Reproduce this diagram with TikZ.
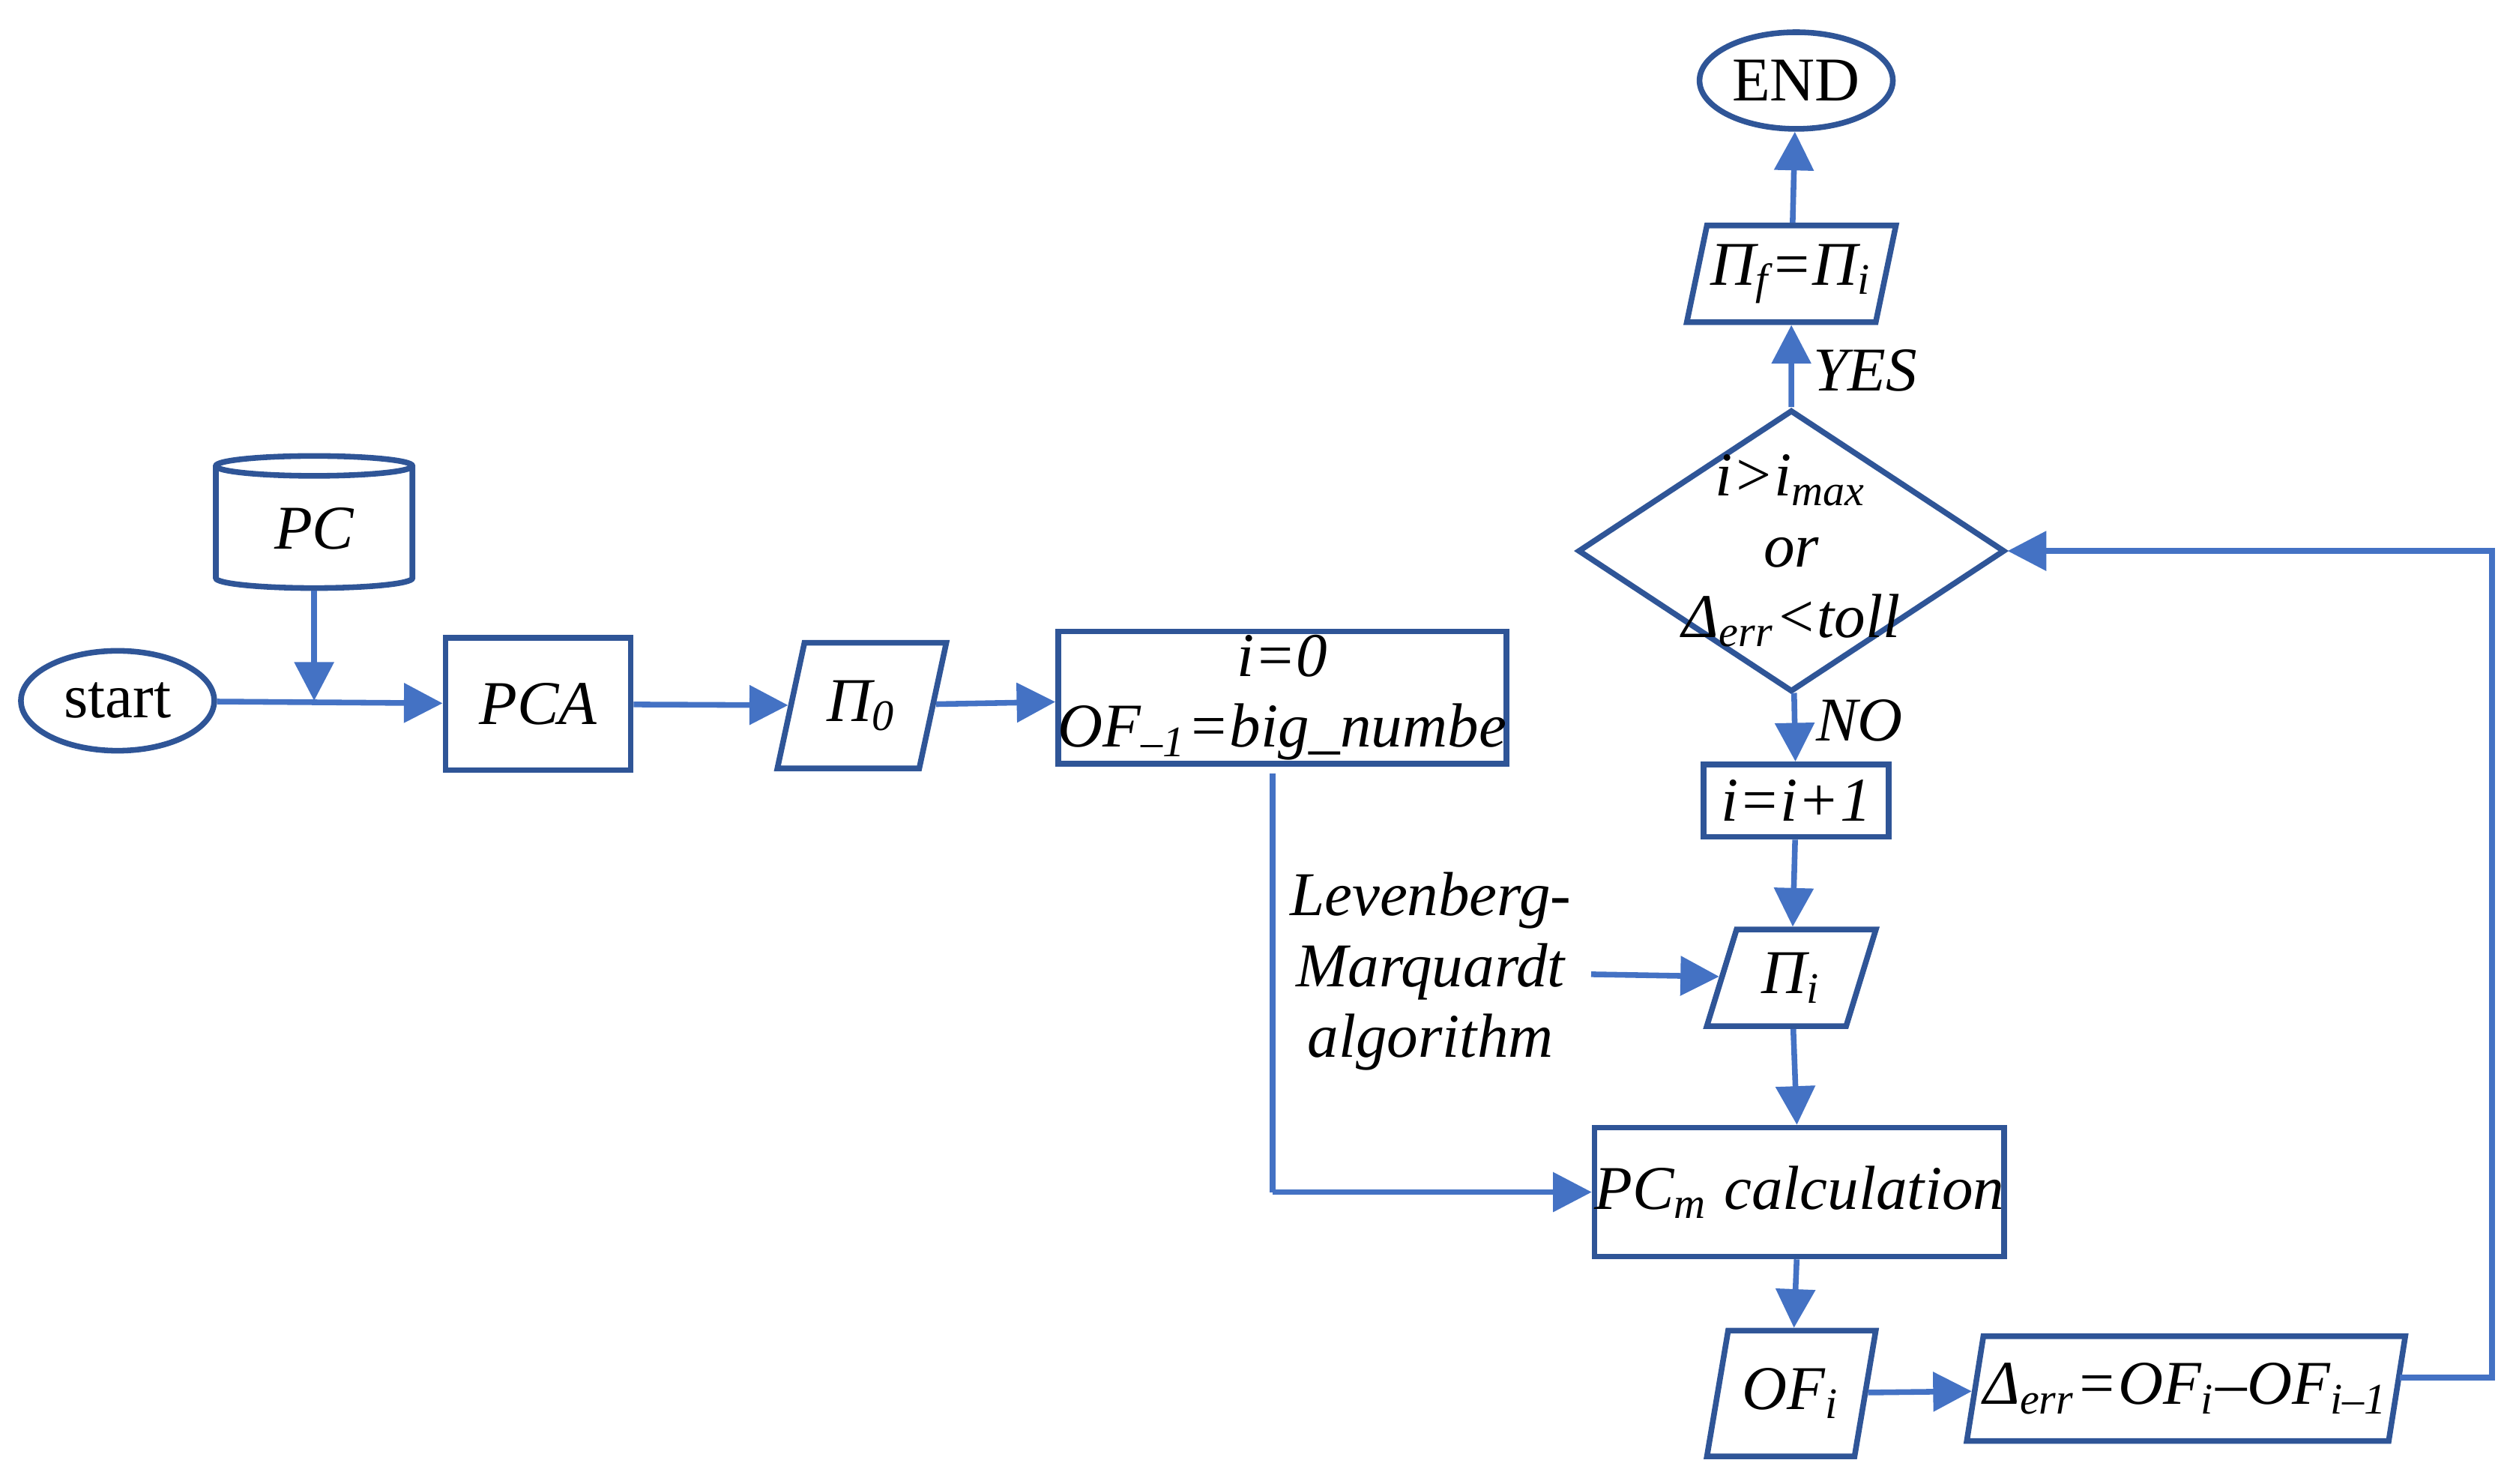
\documentclass[tikz,border=0pt]{standalone}
\usepackage{fontspec}
\setmainfont{Liberation Serif}
\usetikzlibrary{arrows.meta,shapes.geometric}
\definecolor{lineblue}{RGB}{68,114,196}
\definecolor{boxblue}{RGB}{47,85,151}
\tikzset{
  >={Triangle[width=2.4mm,length=2.4mm]},
  base/.style={draw=boxblue, line width=1pt, align=center, inner sep=0pt,
               font=\fontsize{11}{12.5}\selectfont\itshape},
  box/.style={base, rectangle},
  io/.style={base, trapezium, trapezium left angle=72, trapezium right angle=108,
             trapezium stretches=true},
  term/.style={base, ellipse, font=\fontsize{11}{12.5}\selectfont},
  cond/.style={base, diamond},
  flow/.style={draw=lineblue, line width=1pt, ->},
  lbl/.style={font=\fontsize{11}{12.5}\selectfont\itshape, text=black}
}
\begin{document}
\begin{tikzpicture}
\useasboundingbox (0,0) rectangle (15.6,-9.21);
\node[term, minimum width=1.2cm, minimum height=0.6cm] (end) at (11.15,-0.5) {END};
\node[io, minimum width=1.3cm, minimum height=0.6cm] (pif) at (11.12,-1.7) {Π\textsubscript{f}=Π\textsubscript{i}};
\node[cond, minimum width=2.65cm, minimum height=1.75cm,
      label={[lbl, align=center]center:i>i\textsubscript{max}\\or\\Δ\textsubscript{err}<toll}] (dec) at (11.12,-3.42) {};
\node[box, minimum width=1.15cm, minimum height=0.45cm] (inc) at (11.15,-4.97) {i=i+1};
\node[io, minimum width=1.05cm, minimum height=0.6cm] (pii) at (11.12,-6.07) {Π\textsubscript{i}};
\node[box, minimum width=2.33cm, minimum height=0.8cm] (pcm) at (11.17,-7.4) {PC\textsubscript{m} calculation};
\node[io, minimum width=1.05cm, minimum height=0.78cm] (ofi) at (11.12,-8.65) {OF\textsubscript{i}};
\node[io, minimum width=2.5cm, minimum height=0.65cm] (derr) at (13.57,-8.62) {Δ\textsubscript{err}=OF\textsubscript{i}–OF\textsubscript{i–1}};
\node[base, cylinder, shape border rotate=90, aspect=0.25, minimum width=1.22cm, minimum height=0.82cm] (pc) at (1.95,-3.28) {PC};
\node[term, minimum width=1.2cm, minimum height=0.62cm] (start) at (0.73,-4.35) {start};
\node[box, minimum width=1.15cm, minimum height=0.82cm] (pca) at (3.34,-4.37) {PCA};
\node[io, minimum width=1.05cm, minimum height=0.78cm] (pi0) at (5.35,-4.38) {Π\textsubscript{0}};
\node[box, minimum width=2.75cm, minimum height=0.82cm] (init) at (7.96,-4.33) {i=0\\OF\textsubscript{–1}=big\_numbe};
\node[lbl, align=center] (lm) at (8.88,-6.03) {Levenberg-\\Marquardt\\algorithm};
\coordinate (jn) at (pc.south |- start.east);
\coordinate (loop) at (15.47,-8.55);
\coordinate (down) at (7.9,-7.4);

\draw[flow] (start) -- (pca);
\draw[flow] (pc) -- (jn);
\draw[flow] (pca) -- (pi0);
\draw[flow] (pi0) -- (init);
\draw[flow, -] (7.9,-4.8) -- (down);
\draw[flow] (down) -- (pcm);
\draw[flow] (lm) -- (pii);
\draw[flow] (dec) -- node[lbl, right, pos=0.4] {NO} (inc);
\draw[flow] (inc) -- (pii);
\draw[flow] (pii) -- (pcm);
\draw[flow] (pcm) -- (ofi);
\draw[flow] (ofi) -- (derr);
\draw[flow] (derr.east |- loop) -- (loop) |- (dec.east);
\draw[flow] (dec) -- node[lbl, right, pos=0.45] {YES} (pif);
\draw[flow] (pif) -- (end);
\end{tikzpicture}
\end{document}
